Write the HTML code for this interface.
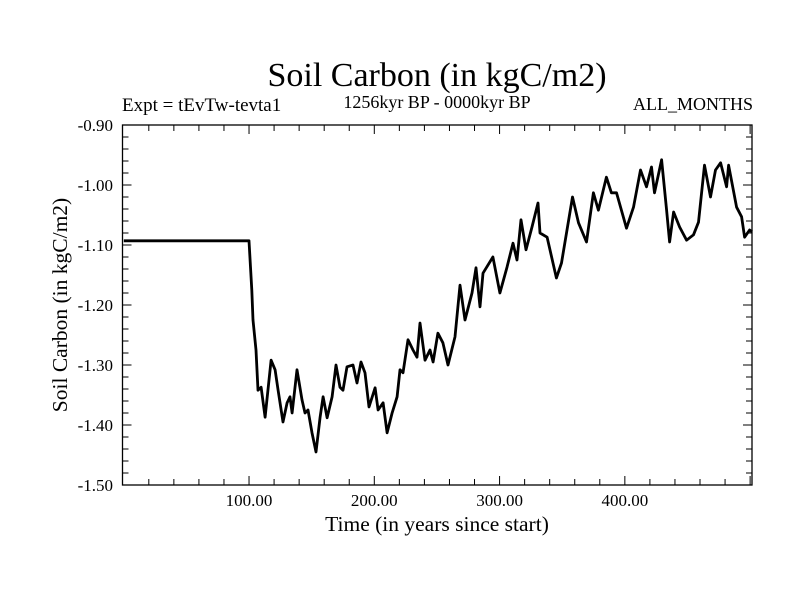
<!DOCTYPE html>
<html><head><meta charset="utf-8"><style>
body{margin:0;background:#fff;}
svg{display:block;font-family:"Liberation Serif",serif;}
</style></head><body>
<svg id="chart" width="800" height="600" xmlns="http://www.w3.org/2000/svg">
<rect width="800" height="600" fill="#fff"/>
<text x="437" y="86" font-size="34" text-anchor="middle">Soil Carbon (in kgC/m2)</text>
<text x="122" y="111" font-size="19">Expt = tEvTw-tevta1</text>
<text x="437" y="108" font-size="18" text-anchor="middle">1256kyr BP - 0000kyr BP</text>
<text x="753" y="110" font-size="18" text-anchor="end">ALL_MONTHS</text>
<text x="437" y="531" font-size="21.5" text-anchor="middle">Time (in years since start)</text>
<text transform="translate(67,305) rotate(-90)" font-size="21.5" text-anchor="middle">Soil Carbon (in kgC/m2)</text>
<g id="axes"></g>
<g id="series"></g>
</svg>
<script>
const yTicks=[-0.9,-1.0,-1.1,-1.2,-1.3,-1.4,-1.5];
const yTickLabels=["-0.90","-1.00","-1.10","-1.20","-1.30","-1.40","-1.50"];
const xTicks=[100,200,300,400];
const xTickLabels=["100.00","200.00","300.00","400.00"];
const times=[0,100,102.2,103.2,105.6,107.2,109.6,112.8,117.6,120.8,123.2,127.1,130.4,132.7,134.4,138.3,142.3,144.7,147.1,150.3,153.5,156.7,159.1,162.3,166.3,169.4,172.6,175.0,178.2,183.0,186.2,189.4,192.6,195.8,200.6,203.0,207.0,210.2,214.2,218.2,220.5,222.9,226.9,230.9,234.1,236.5,240.5,244.5,246.9,250.8,254.8,258.8,264.4,268.4,272.4,278.0,281.2,284.4,286.8,294.7,300.3,305.9,310.7,313.9,317.1,321.1,325.9,330.7,332.3,337.9,345.4,349.4,353.4,358.2,363.0,369.4,374.9,378.9,385.3,389.3,393.3,401.3,406.9,412.5,417.3,421.3,423.7,429.3,433.3,435.7,438.9,443.7,449.3,454.8,458.8,463.6,468.4,472.4,476.4,481.2,482.8,489.2,493.2,495.6,499.6,501.5];
const carbon=[-1.093,-1.093,-1.175,-1.225,-1.275,-1.342,-1.337,-1.387,-1.292,-1.308,-1.342,-1.395,-1.363,-1.353,-1.38,-1.308,-1.358,-1.38,-1.375,-1.413,-1.445,-1.387,-1.353,-1.388,-1.353,-1.3,-1.337,-1.342,-1.303,-1.3,-1.33,-1.295,-1.313,-1.37,-1.338,-1.375,-1.363,-1.413,-1.38,-1.353,-1.308,-1.313,-1.258,-1.275,-1.287,-1.23,-1.292,-1.275,-1.295,-1.247,-1.263,-1.3,-1.253,-1.167,-1.225,-1.18,-1.138,-1.203,-1.147,-1.12,-1.18,-1.137,-1.097,-1.125,-1.058,-1.108,-1.07,-1.03,-1.08,-1.087,-1.155,-1.13,-1.08,-1.02,-1.063,-1.095,-1.013,-1.042,-0.987,-1.013,-1.013,-1.072,-1.037,-0.975,-1.003,-0.97,-1.013,-0.958,-1.042,-1.095,-1.045,-1.07,-1.092,-1.083,-1.062,-0.967,-1.02,-0.975,-0.963,-1.003,-0.967,-1.037,-1.053,-1.087,-1.075,-1.078];
const X0=122.5,X1=752,Y0=125,Y1=485;
const xMin=-1,xMax=501.5,yMin=-1.5,yMax=-0.9;
const xs=t=>X0+(t-xMin)/(xMax-xMin)*(X1-X0);
const ys=v=>Y1-(v-yMin)/(yMax-yMin)*(Y1-Y0);
const NS="http://www.w3.org/2000/svg";
const axes=document.getElementById('axes');
function mk(tag,at,parent){const e=document.createElementNS(NS,tag);for(const k in at)e.setAttribute(k,at[k]);parent.appendChild(e);return e;}
const frame=mk('rect',{x:X0,y:Y0,width:X1-X0,height:Y1-Y0,fill:'none',stroke:'#000','stroke-width':1.3},axes);


for(let v=-1.5;v<=-0.899;v+=0.02){const y=ys(v);const major=Math.abs(Math.round(v*10)-v*10)<0.01;const L=major?9:6;
 const t1=mk('line',{x1:X0,x2:X0+L,y1:y,y2:y,stroke:'#000','stroke-width':1},axes);
 
 
 const t2=mk('line',{x1:X1,x2:X1-L,y1:y,y2:y,stroke:'#000','stroke-width':1},axes);
 
 }
for(let t=20;t<=500;t+=20){const x=xs(t);const major=t%100===0;const L=major?9:6;
 const t1=mk('line',{x1:x,x2:x,y1:Y1,y2:Y1-L,stroke:'#000','stroke-width':1},axes);
 
 
 const t2=mk('line',{x1:x,x2:x,y1:Y0,y2:Y0+L,stroke:'#000','stroke-width':1},axes);
 
 }
yTicks.forEach((v,i)=>{const e=mk('text',{x:113,y:ys(v)+6,'font-size':17,'text-anchor':'end'},axes);e.textContent=yTickLabels[i];
 
 });
xTicks.forEach((t,i)=>{const e=mk('text',{x:xs(t),y:506,'font-size':17,'text-anchor':'middle'},axes);e.textContent=xTickLabels[i];
 
 });
const d=times.map((t,i)=>(i?'L':'M')+xs(t).toFixed(1)+','+ys(carbon[i]).toFixed(1)).join('');
const line=mk('path',{d:d,fill:'none',stroke:'#000','stroke-width':2.8,'stroke-linejoin':'round'},document.getElementById('series'));


</script>
</body></html>
